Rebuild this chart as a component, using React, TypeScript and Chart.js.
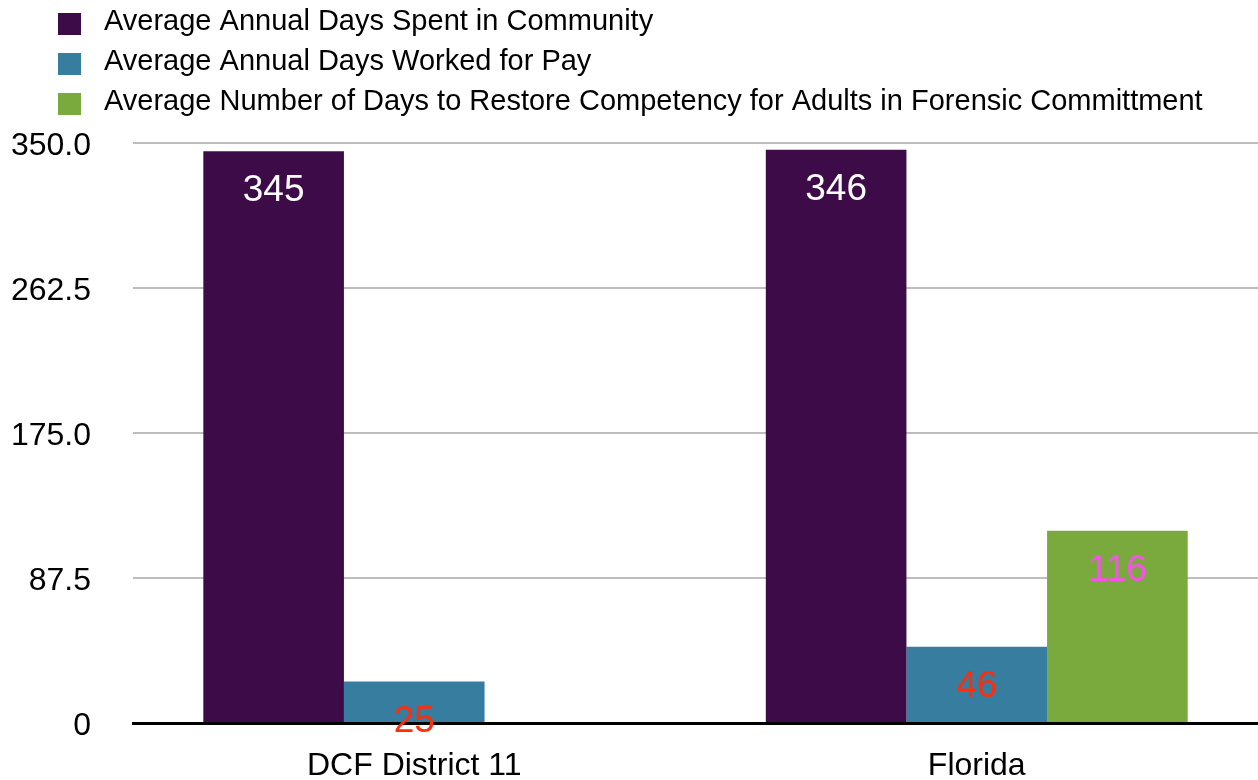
import React, { useEffect, useRef } from "react";
import { Chart, registerables } from "chart.js";

Chart.register(...registerables);

const categories = ["DCF District 11", "Florida"];
const seriesNames = [
  "Average Annual Days Spent in Community",
  "Average Annual Days Worked for Pay",
  "Average Number of Days to Restore Competency for Adults in Forensic Committment",
];
const daysInCommunity = [345, 346];
const daysWorkedForPay = [25, 46];
const daysToRestore = [null, 116];
const yTickLabels = ["0", "87.5", "175.0", "262.5", "350.0"];
const barColors = ["#3d0c48", "#367da0", "#7aaa3e"];
const valueLabelColors = ["#ffffff", "#ff2d0a", "#fb4ef2"];

const FONT = "'Liberation Sans', Arial, Helvetica, sans-serif";

const legendPlugin = {
  id: "customLegend",
  afterDraw(chart: any) {
    const ctx = chart.ctx;
    ctx.save();
    chart.data.datasets.forEach((ds: any, i: number) => {
      const cy = 22 + i * 40;
      ctx.fillStyle = ds.backgroundColor;
      ctx.fillRect(58, cy - 9, 23, 22);
      ctx.fillStyle = "#000";
      ctx.font = `29px ${FONT}`;
      ctx.textBaseline = "middle";
      ctx.textAlign = "left";
      ctx.fillText(ds.label, 104, cy);
    });
    ctx.restore();
  },
};

const valueLabelPlugin = {
  id: "valueLabels",
  afterDraw(chart: any) {
    const ctx = chart.ctx;
    ctx.save();
    ctx.font = `37px ${FONT}`;
    ctx.textAlign = "center";
    ctx.textBaseline = "middle";
    chart.data.datasets.forEach((ds: any, di: number) => {
      const meta = chart.getDatasetMeta(di);
      meta.data.forEach((bar: any, i: number) => {
        const v = ds.data[i];
        if (v === null || v === undefined) return;
        ctx.fillStyle = valueLabelColors[di];
        ctx.fillText(String(v), bar.x, bar.y + 40);
      });
    });
    ctx.restore();
  },
};

export default function App() {
  const ref = useRef<HTMLCanvasElement>(null);
  useEffect(() => {
    if (!ref.current) return;
    const chart = new Chart(ref.current, {
      type: "bar",
      data: {
        labels: categories,
        datasets: [
          { label: seriesNames[0], data: daysInCommunity, backgroundColor: barColors[0] },
          { label: seriesNames[1], data: daysWorkedForPay, backgroundColor: barColors[1] },
          { label: seriesNames[2], data: daysToRestore as any, backgroundColor: barColors[2] },
        ],
      },
      options: {
        animation: false,
        responsive: false,
        maintainAspectRatio: false,
        layout: { padding: { top: 143, left: 0, right: 0, bottom: 0 } },
        datasets: { bar: { categoryPercentage: 0.75, barPercentage: 1.0 } },
        plugins: {
          legend: { display: false },
          tooltip: { enabled: false },
        },
        scales: {
          x: {
            afterFit(scale: any) {
              scale.height = 57;
            },
            grid: { display: false, drawTicks: false },
            border: { display: true, color: "#000", width: 3, z: 1 },
            ticks: {
              color: "#000",
              font: { family: FONT, size: 32, lineHeight: 1 },
              padding: 27,
            },
          },
          y: {
            min: 0,
            max: 350,
            afterFit(scale: any) {
              scale.width = 133;
            },
            grid: {
              color: "#bdbdbd",
              lineWidth: 2,
              drawTicks: true,
              tickLength: 42,
              tickColor: "rgba(0,0,0,0)",
            },
            border: { display: false },
            ticks: {
              stepSize: 87.5,
              color: "#000",
              font: { family: FONT, size: 32 },
              padding: 0,
              labelOffset: 3,
              callback: (_v: any, i: number) => yTickLabels[i],
            },
          },
        },
      },
      plugins: [legendPlugin, valueLabelPlugin],
    });
    return () => chart.destroy();
  }, []);
  return (
    <div style={{ position: "absolute", left: 0, top: 0, width: 1258, height: 780, background: "#fff" }}>
      <canvas ref={ref} width={1258} height={780} />
    </div>
  );
}
